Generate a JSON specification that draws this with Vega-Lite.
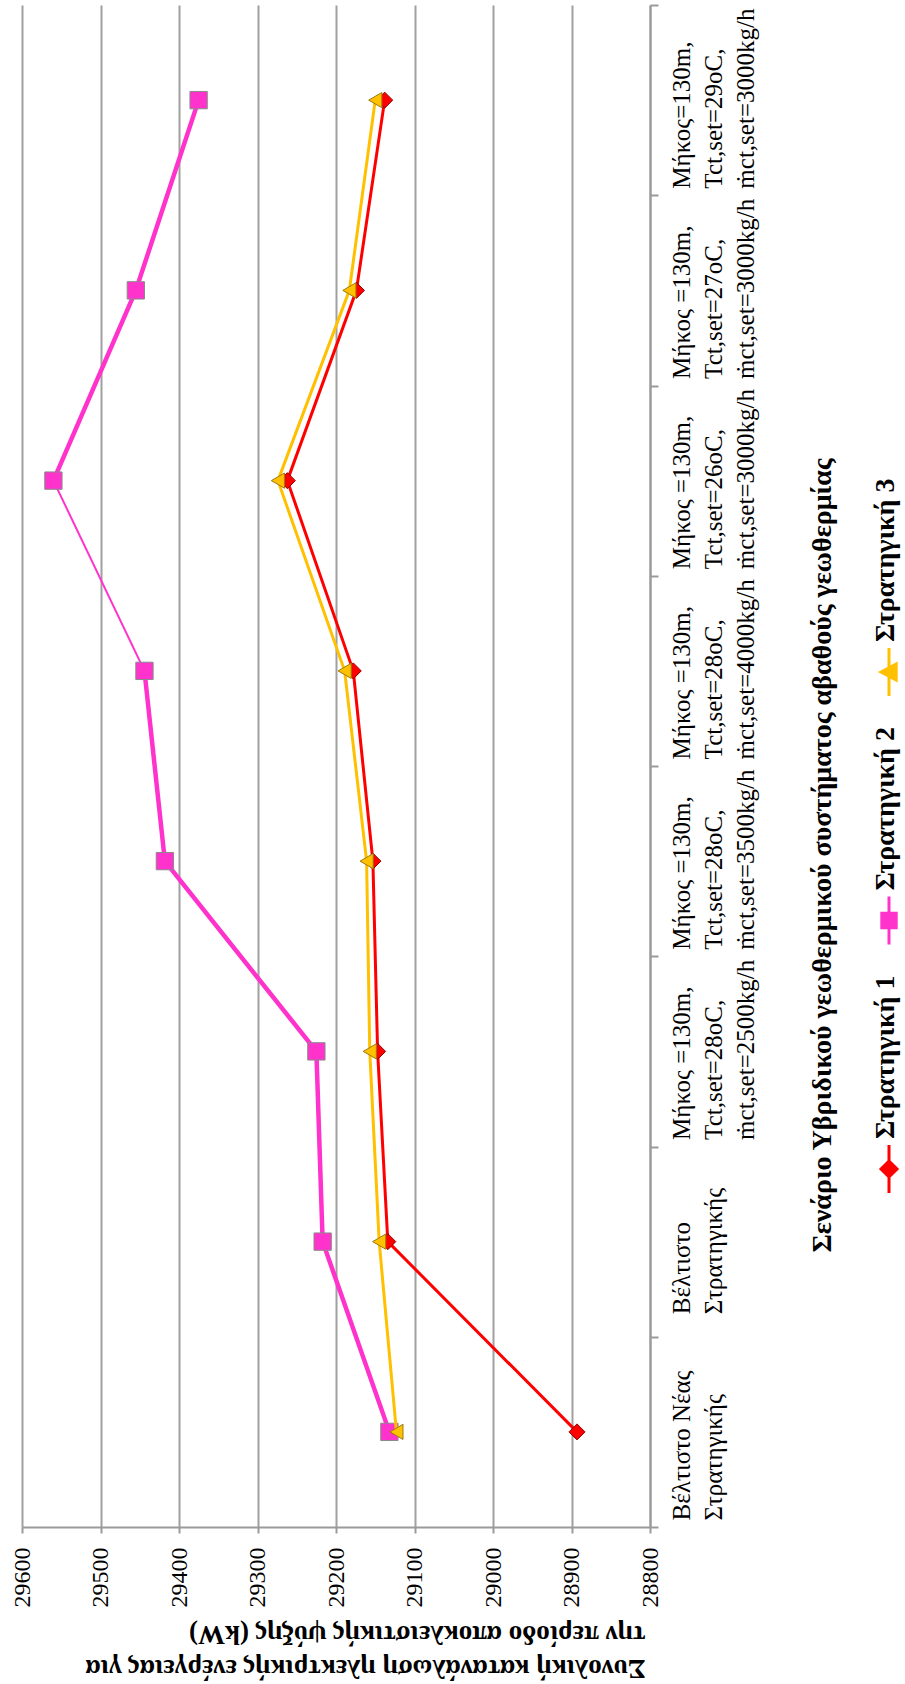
{
  "$schema": "https://vega.github.io/schema/vega-lite/v6.json",
  "width": 628,
  "height": 1522,
  "autosize": "none",
  "padding": {"left": 22, "top": 5, "right": 255, "bottom": 157},
  "background": "white",
  "config": {"view": {"stroke": null}, "font": "Liberation Serif"},
  "data": {
    "values": [
      {"scenario": "Βέλτιστο Νέας|Στρατηγικής", "series": "Στρατηγική 1", "kw": 28893},
      {"scenario": "Βέλτιστο|Στρατηγικής", "series": "Στρατηγική 1", "kw": 29134},
      {"scenario": "Μήκος =130m,|Tct,set=28oC,|ṁct,set=2500kg/h", "series": "Στρατηγική 1", "kw": 29147},
      {"scenario": "Μήκος =130m,|Tct,set=28oC,|ṁct,set=3500kg/h", "series": "Στρατηγική 1", "kw": 29153},
      {"scenario": "Μήκος =130m,|Tct,set=28oC,|ṁct,set=4000kg/h", "series": "Στρατηγική 1", "kw": 29178},
      {"scenario": "Μήκος =130m,|Tct,set=26oC,|ṁct,set=3000kg/h", "series": "Στρατηγική 1", "kw": 29262},
      {"scenario": "Μήκος =130m,|Tct,set=27oC,|ṁct,set=3000kg/h", "series": "Στρατηγική 1", "kw": 29174},
      {"scenario": "Μήκος=130m,|Tct,set=29oC,|ṁct,set=3000kg/h", "series": "Στρατηγική 1", "kw": 29138},
      {"scenario": "Βέλτιστο Νέας|Στρατηγικής", "series": "Στρατηγική 2", "kw": 29132},
      {"scenario": "Βέλτιστο|Στρατηγικής", "series": "Στρατηγική 2", "kw": 29217},
      {"scenario": "Μήκος =130m,|Tct,set=28oC,|ṁct,set=2500kg/h", "series": "Στρατηγική 2", "kw": 29225},
      {"scenario": "Μήκος =130m,|Tct,set=28oC,|ṁct,set=3500kg/h", "series": "Στρατηγική 2", "kw": 29418},
      {"scenario": "Μήκος =130m,|Tct,set=28oC,|ṁct,set=4000kg/h", "series": "Στρατηγική 2", "kw": 29444},
      {"scenario": "Μήκος =130m,|Tct,set=26oC,|ṁct,set=3000kg/h", "series": "Στρατηγική 2", "kw": 29560},
      {"scenario": "Μήκος =130m,|Tct,set=27oC,|ṁct,set=3000kg/h", "series": "Στρατηγική 2", "kw": 29455},
      {"scenario": "Μήκος=130m,|Tct,set=29oC,|ṁct,set=3000kg/h", "series": "Στρατηγική 2", "kw": 29375},
      {"scenario": "Βέλτιστο Νέας|Στρατηγικής", "series": "Στρατηγική 3", "kw": 29123},
      {"scenario": "Βέλτιστο|Στρατηγικής", "series": "Στρατηγική 3", "kw": 29145},
      {"scenario": "Μήκος =130m,|Tct,set=28oC,|ṁct,set=2500kg/h", "series": "Στρατηγική 3", "kw": 29157},
      {"scenario": "Μήκος =130m,|Tct,set=28oC,|ṁct,set=3500kg/h", "series": "Στρατηγική 3", "kw": 29161},
      {"scenario": "Μήκος =130m,|Tct,set=28oC,|ṁct,set=4000kg/h", "series": "Στρατηγική 3", "kw": 29189},
      {"scenario": "Μήκος =130m,|Tct,set=26oC,|ṁct,set=3000kg/h", "series": "Στρατηγική 3", "kw": 29274},
      {"scenario": "Μήκος =130m,|Tct,set=27oC,|ṁct,set=3000kg/h", "series": "Στρατηγική 3", "kw": 29183},
      {"scenario": "Μήκος=130m,|Tct,set=29oC,|ṁct,set=3000kg/h", "series": "Στρατηγική 3", "kw": 29150}
    ]
  },
  "encoding": {
    "y": {
      "field": "scenario",
      "type": "nominal",
      "scale": {
        "type": "band",
        "paddingInner": 0,
        "paddingOuter": 0,
        "domain": [
          "Μήκος=130m,|Tct,set=29oC,|ṁct,set=3000kg/h",
          "Μήκος =130m,|Tct,set=27oC,|ṁct,set=3000kg/h",
          "Μήκος =130m,|Tct,set=26oC,|ṁct,set=3000kg/h",
          "Μήκος =130m,|Tct,set=28oC,|ṁct,set=4000kg/h",
          "Μήκος =130m,|Tct,set=28oC,|ṁct,set=3500kg/h",
          "Μήκος =130m,|Tct,set=28oC,|ṁct,set=2500kg/h",
          "Βέλτιστο|Στρατηγικής",
          "Βέλτιστο Νέας|Στρατηγικής"
        ]
      },
      "axis": {
        "orient": "right",
        "title": "Σενάριο Υβριδικού γεωθερμικού συστήματος αβαθούς γεωθερμίας",
        "titleFont": "Liberation Serif",
        "titleFontSize": 28,
        "titleFontWeight": "bold",
        "titleColor": "black",
        "titleAngle": -90,
        "titleAlign": "left",
        "titleBaseline": "middle",
        "titleX": 172,
        "titleY": 1247,
        "titleLimit": 2000,
        "labelExpr": "split(datum.label, '|')",
        "labelAngle": -90,
        "labelAlign": "left",
        "labelBaseline": "top",
        "labelFont": "Liberation Serif",
        "labelFontSize": 25,
        "labelLineHeight": 32,
        "labelColor": "black",
        "labelPadding": 11,
        "labelLimit": 0,
        "labelOverlap": false,
        "labelBound": false,
        "labelOffset": {"condition": {"test": "datum.value === 'Βέλτιστο|Στρατηγικής'", "value": 72}, "value": 88},
        "tickBand": "extent",
        "tickSize": 8,
        "tickColor": "#9a9a9a",
        "tickWidth": 2,
        "domainColor": "#9a9a9a",
        "domainWidth": 2,
        "grid": false
      }
    },
    "x": {
      "field": "kw",
      "type": "quantitative",
      "scale": {"domain": [28800, 29600], "reverse": true, "nice": false, "zero": false},
      "axis": {
        "orient": "bottom",
        "title": ["Συνολική κατανάλωση ηλεκτρικής ενέργειας για", "την περίοδο αποκλειστικής ψύξης (kW)"],
        "titleFont": "Liberation Serif",
        "titleFontSize": 27,
        "titleFontWeight": "bold",
        "titleColor": "black",
        "titleAngle": 180,
        "titleAlign": "left",
        "titleBaseline": "top",
        "titleLineHeight": 34,
        "titleX": 623,
        "titleY": 153,
        "titleLimit": 2000,
        "values": [28800, 28900, 29000, 29100, 29200, 29300, 29400, 29500, 29600],
        "format": "d",
        "labelAngle": -90,
        "labelAlign": "right",
        "labelBaseline": "middle",
        "labelFont": "Liberation Serif",
        "labelFontSize": 24,
        "labelColor": "black",
        "labelPadding": 14,
        "labelFlush": false,
        "labelOverlap": false,
        "labelBound": false,
        "tickSize": 6,
        "tickColor": "#9a9a9a",
        "tickWidth": 2,
        "domainColor": "#9a9a9a",
        "domainWidth": 2,
        "grid": true,
        "gridColor": "#a0a0a0",
        "gridWidth": 2
      }
    }
  },
  "layer": [
    {
      "transform": [{"filter": {"field": "series", "equal": "Στρατηγική 1"}}],
      "mark": {"type": "line", "color": "#FF0000", "strokeWidth": 3, "strokeJoin": "round"},
      "encoding": {"order": {"value": null}}
    },
    {
      "transform": [{"filter": {"field": "series", "equal": "Στρατηγική 1"}}],
      "mark": {"type": "point", "shape": "diamond", "filled": true, "opacity": 1, "size": 256, "fill": "#FF0000", "stroke": "#8B0000", "strokeWidth": 1}
    },
    {
      "transform": [{"filter": {"and": [{"field": "series", "equal": "Στρατηγική 2"}, {"field": "scenario", "oneOf": ["Βέλτιστο Νέας|Στρατηγικής", "Βέλτιστο|Στρατηγικής", "Μήκος =130m,|Tct,set=28oC,|ṁct,set=2500kg/h", "Μήκος =130m,|Tct,set=28oC,|ṁct,set=3500kg/h", "Μήκος =130m,|Tct,set=28oC,|ṁct,set=4000kg/h"]}]}}],
      "mark": {"type": "line", "color": "#FF33CC", "strokeWidth": 4.5, "strokeJoin": "round"},
      "encoding": {"order": {"value": null}}
    },
    {
      "transform": [{"filter": {"and": [{"field": "series", "equal": "Στρατηγική 2"}, {"field": "scenario", "oneOf": ["Μήκος =130m,|Tct,set=28oC,|ṁct,set=4000kg/h", "Μήκος =130m,|Tct,set=26oC,|ṁct,set=3000kg/h"]}]}}],
      "mark": {"type": "line", "color": "#FF33CC", "strokeWidth": 2, "strokeJoin": "round"},
      "encoding": {"order": {"value": null}}
    },
    {
      "transform": [{"filter": {"and": [{"field": "series", "equal": "Στρατηγική 2"}, {"field": "scenario", "oneOf": ["Μήκος =130m,|Tct,set=26oC,|ṁct,set=3000kg/h", "Μήκος =130m,|Tct,set=27oC,|ṁct,set=3000kg/h", "Μήκος=130m,|Tct,set=29oC,|ṁct,set=3000kg/h"]}]}}],
      "mark": {"type": "line", "color": "#FF33CC", "strokeWidth": 4.5, "strokeJoin": "round"},
      "encoding": {"order": {"value": null}}
    },
    {
      "transform": [{"filter": {"field": "series", "equal": "Στρατηγική 2"}}],
      "mark": {"type": "point", "shape": "square", "filled": true, "opacity": 1, "size": 300, "fill": "#FF33CC", "stroke": "#8a8a8a", "strokeWidth": 1}
    },
    {
      "transform": [{"filter": {"field": "series", "equal": "Στρατηγική 3"}}],
      "mark": {"type": "line", "color": "#FFC000", "strokeWidth": 3, "strokeJoin": "round"},
      "encoding": {"order": {"value": null}}
    },
    {
      "transform": [{"filter": {"field": "series", "equal": "Στρατηγική 3"}}],
      "mark": {"type": "point", "shape": "triangle-left", "filled": true, "opacity": 1, "size": 230, "fill": "#FFC000", "stroke": "#9c7a10", "strokeWidth": 1}
    },
    {
      "mark": {"type": "point", "filled": true, "opacity": 0, "size": 256, "strokeWidth": 3},
      "encoding": {
        "fill": {
          "field": "series", "type": "nominal",
          "scale": {"domain": ["Στρατηγική 3", "Στρατηγική 2", "Στρατηγική 1"], "range": ["#FFC000", "#FF33CC", "#FF0000"]},
          "legend": {
            "orient": "none", "legendX": 853, "legendY": 653, "title": null, "direction": "vertical",
            "labelFont": "Liberation Serif", "labelFontSize": 28, "labelFontWeight": "bold", "labelColor": "black", "labelLimit": 400,
            "labelAlign": "left", "labelBaseline": "middle",
            "symbolSize": 256, "symbolStrokeWidth": 3, "symbolOpacity": 1, "rowPadding": 24.5, "padding": 0, "offset": 0,
            "encoding": {"labels": {"angle": {"value": -90}, "dx": {"value": 30}, "x": {"value": 11}}}
          }
        },
        "stroke": {
          "field": "series", "type": "nominal",
          "scale": {"domain": ["Στρατηγική 3", "Στρατηγική 2", "Στρατηγική 1"], "range": ["#FFC000", "#FF33CC", "#FF0000"]},
          "legend": {
            "orient": "none", "legendX": 853, "legendY": 653, "title": null, "direction": "vertical",
            "labelFont": "Liberation Serif", "labelFontSize": 28, "labelFontWeight": "bold", "labelColor": "black", "labelLimit": 400,
            "labelAlign": "left", "labelBaseline": "middle",
            "symbolSize": 256, "symbolStrokeWidth": 3, "symbolOpacity": 1, "rowPadding": 24.5, "padding": 0, "offset": 0,
            "encoding": {"labels": {"angle": {"value": -90}, "dx": {"value": 30}, "x": {"value": 11}}}
          }
        },
        "shape": {
          "field": "series", "type": "nominal",
          "scale": {"domain": ["Στρατηγική 3", "Στρατηγική 2", "Στρατηγική 1"], "range": ["M0,-3V3M-1,0L0.9,-1V1Z", "M0,-3V3M-0.9,-0.9H0.9V0.9H-0.9Z", "M0,-3V3M-1,0L0,-1L1,0L0,1Z"]},
          "legend": {
            "orient": "none", "legendX": 853, "legendY": 653, "title": null, "direction": "vertical",
            "labelFont": "Liberation Serif", "labelFontSize": 28, "labelFontWeight": "bold", "labelColor": "black", "labelLimit": 400,
            "labelAlign": "left", "labelBaseline": "middle",
            "symbolSize": 256, "symbolStrokeWidth": 3, "symbolOpacity": 1, "rowPadding": 24.5, "padding": 0, "offset": 0,
            "encoding": {"labels": {"angle": {"value": -90}, "dx": {"value": 30}, "x": {"value": 11}}}
          }
        }
      }
    }
  ]
}
